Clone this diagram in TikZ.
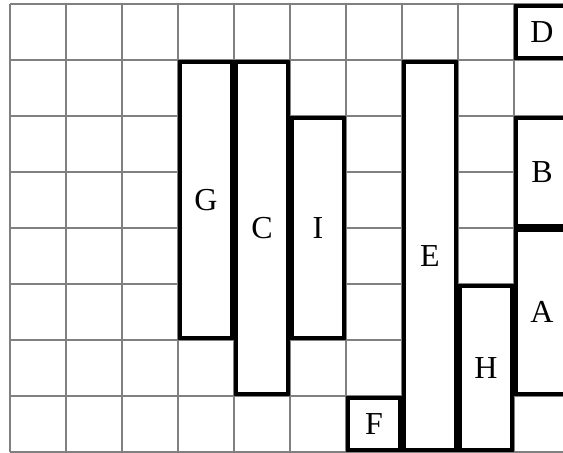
\documentclass[tikz,border=0pt]{standalone}
\usepackage{fontspec}
\setmainfont{Liberation Serif}
\definecolor{gridgray}{RGB}{128,128,128}
\begin{document}
\begin{tikzpicture}[x=1pt,y=1pt,
  gridline/.style={draw=gridgray, line width=2pt},
  blk/.style={draw=black, line width=3.5pt, fill=white, inner sep=0pt,
    minimum width=52pt, font=\fontsize{32}{38}\selectfont},
  cellfill/.style={fill=white}]
\useasboundingbox (0,0) rectangle (563,453);
\clip (0,0) rectangle (563,453);
% grid
\foreach \gx in {10,66,...,570} { \draw[gridline] (\gx,1) -- (\gx,449); }
\foreach \gy in {1,57,...,449} { \draw[gridline] (10,\gy) -- (570,\gy); }
% white backgrounds of blocks (full cells)
\fill[cellfill] (178,113) rectangle (234,393);
\fill[cellfill] (234,57) rectangle (290,393);
\fill[cellfill] (290,113) rectangle (346,337);
\fill[cellfill] (346,1) rectangle (402,57);
\fill[cellfill] (402,1) rectangle (458,393);
\fill[cellfill] (458,1) rectangle (514,169);
\fill[cellfill] (514,57) rectangle (570,225);
\fill[cellfill] (514,225) rectangle (570,337);
\fill[cellfill] (514,393) rectangle (570,449);
% blocks
\node[blk, minimum height=276pt] (G) at (206,253) {G};
\node[blk, minimum height=332pt] (C) at (262,225) {C};
\node[blk, minimum height=220pt] (I) at (318,225) {I};
\node[blk, minimum height=52pt]  (F) at (374,29)  {F};
\node[blk, minimum height=388pt] (E) at (430,197) {E};
\node[blk, minimum height=164pt] (H) at (486,85)  {H};
\node[blk, minimum height=164pt] (A) at (542,141) {A};
\node[blk, minimum height=108pt] (B) at (542,281) {B};
\node[blk, minimum height=52pt]  (D) at (542,421) {D};
\end{tikzpicture}
\end{document}
